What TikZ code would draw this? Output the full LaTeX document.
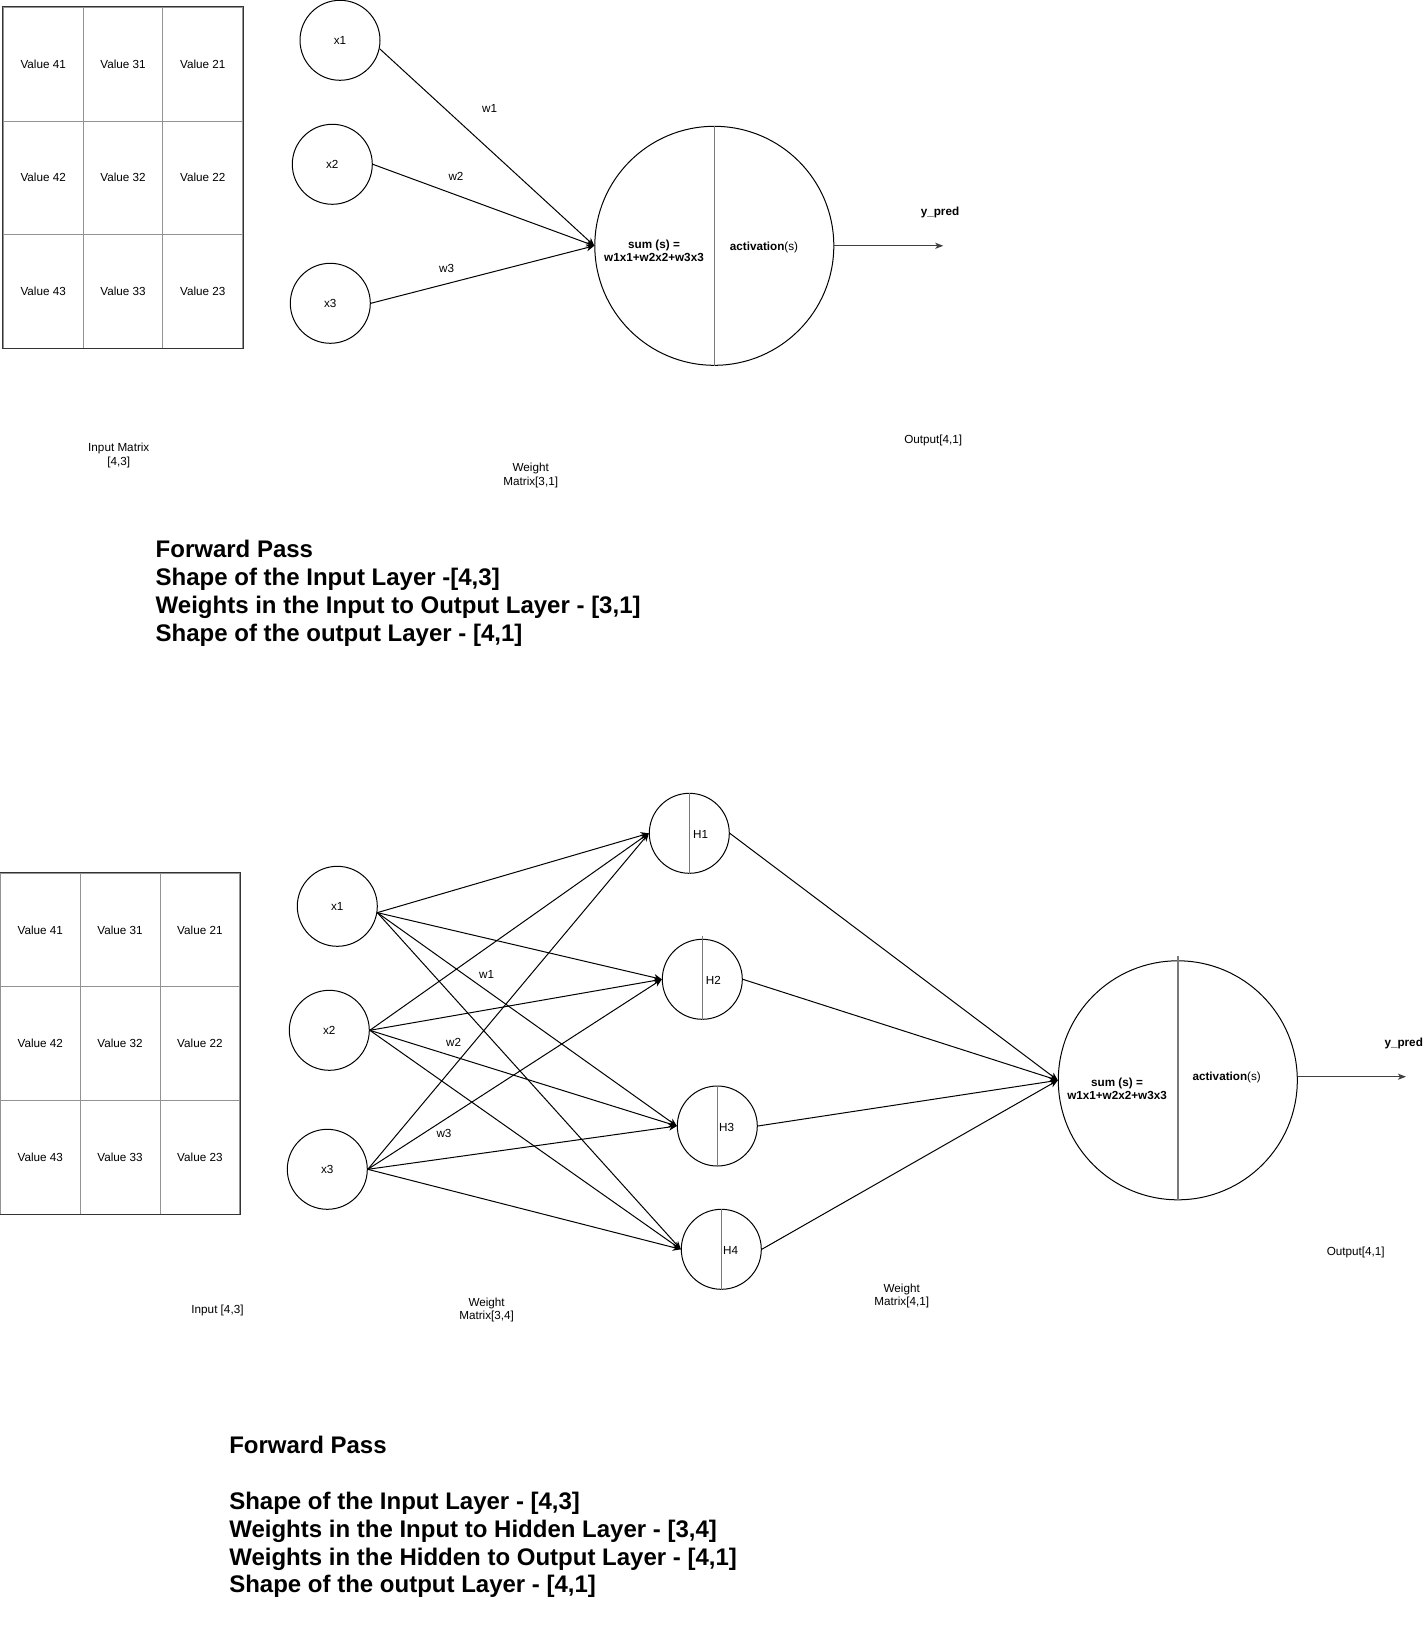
\documentclass[tikz,border=0pt]{standalone}
\usepackage{fontspec}
\setmainfont{Liberation Sans}
\usetikzlibrary{arrows.meta,calc}
\tikzset{
  cellbox/.style={draw=gray!85,line width=0.9pt,minimum width=79.8pt,minimum height=113.6pt,inner sep=0pt,font=\fontsize{11.7}{13.6}\selectfont},
  frame/.style={draw=black!80,line width=1pt},
  neuron/.style={circle,draw=black,line width=1pt,minimum size=80pt,inner sep=0pt,font=\fontsize{11.7}{13.6}\selectfont},
  bigneuron/.style={circle,draw=black,line width=1pt,minimum size=239pt,inner sep=0pt},
  divider/.style={draw=gray!95!black,line width=1.4pt},
  txt/.style={inner sep=0pt,align=center,font=\fontsize{11.7}{13.6}\selectfont},
  btxt/.style={inner sep=0pt,align=center,font=\fontsize{11.7}{13.4}\selectfont\bfseries},
  bigtxt/.style={inner sep=0pt,align=left,anchor=west,font=\fontsize{24}{27.9}\selectfont\bfseries},
  conn/.style={draw=black,line width=1pt,-{Stealth[length=8pt,width=7pt,inset=2.5pt]}},
  outarrow/.style={draw=black!75,line width=1.3pt,-{Stealth[length=8pt,width=6pt,inset=2pt]}}
}
\begin{document}
\begin{tikzpicture}[x=1pt,y=-1pt]
\useasboundingbox[fill=white] (0,0) rectangle (1425,1648);

% ---------------- TOP SECTION ----------------
% input matrix
\node[cellbox] (a11) at (43.2,64.2) {Value 41};
\node[cellbox] (a12) at (123.0,64.2) {Value 31};
\node[cellbox] (a13) at (202.8,64.2) {Value 21};
\node[cellbox] (a21) at (43.2,177.8) {Value 42};
\node[cellbox] (a22) at (123.0,177.8) {Value 32};
\node[cellbox] (a23) at (202.8,177.8) {Value 22};
\node[cellbox] (a31) at (43.2,291.4) {Value 43};
\node[cellbox] (a32) at (123.0,291.4) {Value 33};
\node[cellbox] (a33) at (202.8,291.4) {Value 23};
\draw[frame] (a11.north west) rectangle (a33.south east);

% inputs
\node[neuron] (tx1) at (340,40.3) {x1};
\node[neuron] (tx2) at (332.3,164.3) {x2};
\node[neuron] (tx3) at (330.3,303.3) {x3};

% output neuron
\node[bigneuron] (tout) at (714.3,245.8) {};
\draw[divider] (tout.north) -- (tout.south);
\node[btxt] (tsum) at (654,251) {sum (s) =\\w1x1+w2x2+w3x3};
\node[txt] (tact) at (764,247) {\textbf{activation}(s)};
\node[btxt] (typred) at (940,212.7) {y\_pred};
\coordinate (tyend) at (943.3,245.8);
\draw[outarrow] (tout.east) -- (tyend);

% connectors
\draw[conn] (tx1.-12) -- (tout.west);
\draw[conn] (tx2.east) -- (tout.west);
\draw[conn] (tx3.east) -- (tout.west);
\node[txt] (tw1) at (489.7,108.2) {w1};
\node[txt] (tw2) at (456,176.5) {w2};
\node[txt] (tw3) at (446.6,268) {w3};

% captions
\node[txt] (tcap1) at (118.8,455.5) {Input Matrix\\{}[4,3]};
\node[txt] (tcap2) at (530.7,475.5) {Weight\\Matrix[3,1]};
\node[txt] (tcap3) at (933.2,440.3) {Output[4,1]};

\node[bigtxt] (tblock) at (155.5,593.6) {Forward Pass\\Shape of the Input Layer -[4,3]\\Weights in the Input to Output Layer - [3,1]\\Shape of the output Layer - [4,1]};

% ---------------- BOTTOM SECTION ----------------
\node[cellbox] (b11) at (40.3,930.1) {Value 41};
\node[cellbox] (b12) at (120.1,930.1) {Value 31};
\node[cellbox] (b13) at (199.9,930.1) {Value 21};
\node[cellbox] (b21) at (40.3,1043.7) {Value 42};
\node[cellbox] (b22) at (120.1,1043.7) {Value 32};
\node[cellbox] (b23) at (199.9,1043.7) {Value 22};
\node[cellbox] (b31) at (40.3,1157.3) {Value 43};
\node[cellbox] (b32) at (120.1,1157.3) {Value 33};
\node[cellbox] (b33) at (199.9,1157.3) {Value 23};
\draw[frame] (b11.north west) rectangle (b33.south east);

\node[neuron] (bx1) at (337.3,906.3) {x1};
\node[neuron] (bx2) at (329.3,1030.3) {x2};
\node[neuron] (bx3) at (327.3,1169.3) {x3};

\node[neuron] (h1) at (689.3,833.3) {};
\node[neuron] (h2) at (702.3,979.3) {};
\node[neuron] (h3) at (717.3,1126) {};
\node[neuron] (h4) at (721.3,1249.3) {};
\draw[divider] (h1.north) -- (h1.south);
\draw[divider] ($(h2.north)+(0,-3)$) -- (h2.south);
\draw[divider] (h3.north) -- (h3.south);
\draw[divider] (h4.north) -- (h4.south);
\node[txt] (h1t) at (700.7,834.3) {H1};
\node[txt] (h2t) at (713.3,980.3) {H2};
\node[txt] (h3t) at (726.7,1127) {H3};
\node[txt] (h4t) at (730.7,1250.3) {H4};

\node[bigneuron] (bout) at (1177.8,1080.3) {};
\draw[divider] ($(bout.north)+(0,-4)$) -- (bout.south);
\node[btxt] (bsum) at (1117,1089) {sum (s) =\\w1x1+w2x2+w3x3};
\node[txt] (bact) at (1226.7,1077.7) {\textbf{activation}(s)};
\node[btxt] (bypred) at (1403.7,1043.7) {y\_pred};
\coordinate (byend) at (1406,1076.7);
\draw[outarrow] (bout.east |- byend) -- (byend);

% input -> hidden
\foreach \h in {h1,h2,h3,h4}{
  \draw[conn] (bx1.-9) -- (\h.west);
  \draw[conn] (bx2.east) -- (\h.west);
  \draw[conn] (bx3.east) -- (\h.west);
}
% hidden -> output
\foreach \h in {h1,h2,h3,h4}{
  \draw[conn] (\h.east) -- (bout.west);
}
\node[txt] (bw1) at (486.7,974.3) {w1};
\node[txt] (bw2) at (453.7,1042.7) {w2};
\node[txt] (bw3) at (444,1133.3) {w3};

\node[txt] (bcap1) at (217.5,1310.4) {Input [4,3]};
\node[txt] (bcap2) at (486.6,1310) {Weight\\Matrix[3,4]};
\node[txt] (bcap3) at (901.7,1296) {Weight\\Matrix[4,1]};
\node[txt] (bcap4) at (1355.7,1252.6) {Output[4,1]};

\node[bigtxt] (bblock) at (229.1,1517) {Forward Pass\\\mbox{}\\Shape of the Input Layer - [4,3]\\Weights in the Input to Hidden Layer - [3,4]\\Weights in the Hidden to Output Layer - [4,1]\\Shape of the output Layer - [4,1]};
\end{tikzpicture}
\end{document}
